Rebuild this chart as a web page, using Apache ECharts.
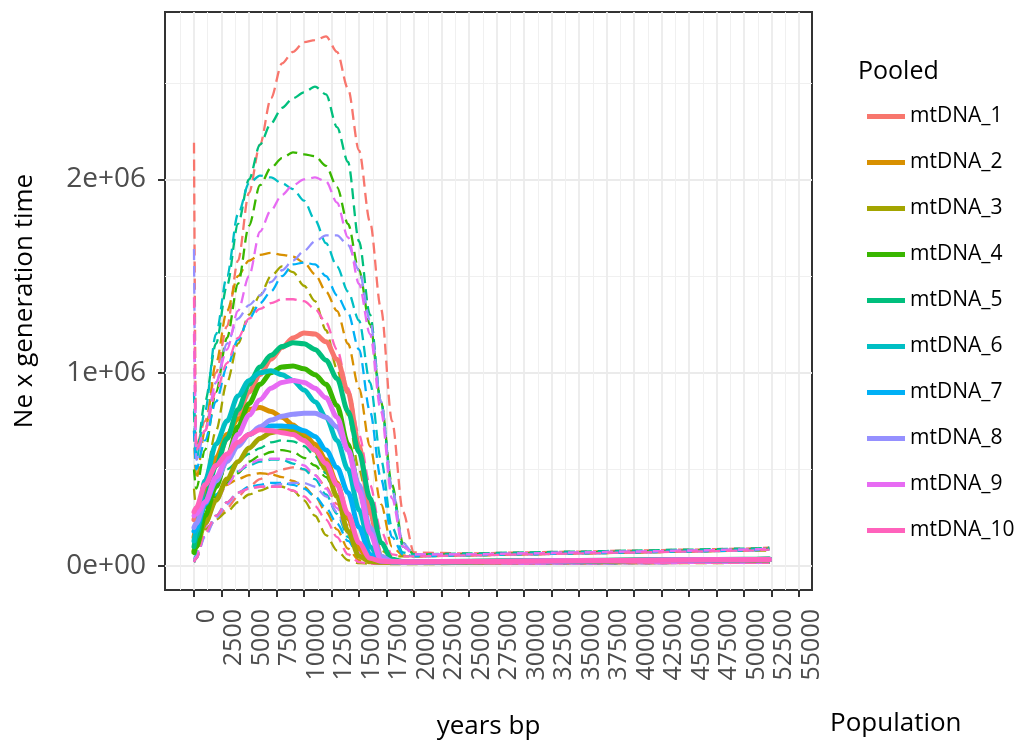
<!DOCTYPE html>
<html>
<head>
<meta charset="utf-8">
<title>Pooled skyline</title>
<script src="https://cdn.jsdelivr.net/npm/echarts@6/dist/echarts.min.js"></script>
<style>
  html, body { margin: 0; padding: 0; background: #ffffff; }
  #chart { width: 1024px; height: 745px; }
</style>
</head>
<body>
<div id="chart"></div>
<script>
// Sampling times (years before present) shared by every curve
const years = [0, 200, 1000, 2000, 3000, 4000, 5000, 6000, 7000, 8000, 9000, 10000, 11000, 12000,
  13000, 14000, 15000, 16000, 17000, 18000, 19000, 20000, 25000, 30000, 35000, 40000, 45000, 50000, 52300];

const runNames = ['mtDNA_1', 'mtDNA_2', 'mtDNA_3', 'mtDNA_4', 'mtDNA_5',
  'mtDNA_6', 'mtDNA_7', 'mtDNA_8', 'mtDNA_9', 'mtDNA_10'];

// Ne x generation time, in millions — median of each run
const median1 = [0.24, 0.27, 0.38, 0.52, 0.66, 0.79, 0.90, 0.99, 1.07, 1.13, 1.18, 1.205, 1.20, 1.16, 1.07, 0.90, 0.62, 0.28, 0.05, 0.026, 0.022, 0.022, 0.024, 0.026, 0.028, 0.030, 0.032, 0.034, 0.035];
const median2 = [0.15, 0.20, 0.40, 0.56, 0.68, 0.76, 0.81, 0.82, 0.80, 0.77, 0.73, 0.68, 0.63, 0.55, 0.43, 0.25, 0.09, 0.03, 0.022, 0.020, 0.020, 0.020, 0.022, 0.024, 0.026, 0.028, 0.030, 0.032, 0.033];
const median3 = [0.08, 0.10, 0.22, 0.34, 0.45, 0.54, 0.61, 0.66, 0.69, 0.70, 0.70, 0.66, 0.60, 0.50, 0.36, 0.18, 0.05, 0.025, 0.020, 0.018, 0.018, 0.019, 0.021, 0.023, 0.025, 0.027, 0.029, 0.031, 0.032];
const median4 = [0.07, 0.10, 0.26, 0.41, 0.56, 0.72, 0.84, 0.94, 1.00, 1.03, 1.035, 1.02, 0.99, 0.94, 0.83, 0.63, 0.40, 0.18, 0.04, 0.025, 0.022, 0.022, 0.024, 0.026, 0.028, 0.030, 0.032, 0.034, 0.035];
const median5 = [0.10, 0.15, 0.34, 0.52, 0.66, 0.81, 0.94, 1.03, 1.09, 1.135, 1.155, 1.15, 1.12, 1.065, 0.97, 0.80, 0.59, 0.35, 0.12, 0.035, 0.024, 0.023, 0.025, 0.027, 0.029, 0.031, 0.033, 0.035, 0.036];
const median6 = [0.13, 0.18, 0.44, 0.63, 0.75, 0.88, 0.96, 1.00, 1.01, 0.99, 0.96, 0.91, 0.85, 0.77, 0.65, 0.50, 0.29, 0.10, 0.03, 0.022, 0.021, 0.021, 0.023, 0.025, 0.027, 0.029, 0.031, 0.033, 0.034];
const median7 = [0.18, 0.20, 0.32, 0.44, 0.55, 0.63, 0.68, 0.71, 0.725, 0.725, 0.72, 0.70, 0.67, 0.60, 0.51, 0.38, 0.20, 0.06, 0.025, 0.021, 0.020, 0.020, 0.022, 0.024, 0.026, 0.028, 0.030, 0.032, 0.033];
const median8 = [0.20, 0.22, 0.33, 0.44, 0.54, 0.62, 0.68, 0.72, 0.755, 0.775, 0.785, 0.79, 0.79, 0.77, 0.72, 0.60, 0.42, 0.20, 0.05, 0.025, 0.022, 0.022, 0.024, 0.026, 0.028, 0.030, 0.032, 0.034, 0.035];
const median9 = [0.26, 0.27, 0.33, 0.46, 0.56, 0.68, 0.78, 0.86, 0.92, 0.95, 0.96, 0.95, 0.92, 0.87, 0.77, 0.60, 0.39, 0.17, 0.03, 0.022, 0.021, 0.021, 0.023, 0.025, 0.027, 0.029, 0.031, 0.033, 0.034];
const median10 = [0.28, 0.30, 0.42, 0.52, 0.58, 0.64, 0.68, 0.705, 0.70, 0.69, 0.68, 0.65, 0.60, 0.53, 0.42, 0.27, 0.12, 0.04, 0.025, 0.022, 0.021, 0.021, 0.023, 0.025, 0.027, 0.029, 0.031, 0.033, 0.034];

// Upper bound of each run
const upper1 = [2.19, 0.62, 0.75, 1.00, 1.24, 1.58, 1.93, 2.18, 2.42, 2.60, 2.66, 2.71, 2.72, 2.74, 2.66, 2.47, 2.15, 1.78, 1.33, 0.75, 0.28, 0.07, 0.065, 0.070, 0.075, 0.080, 0.085, 0.090, 0.095];
const upper2 = [0.70, 0.45, 0.70, 1.05, 1.32, 1.50, 1.58, 1.61, 1.62, 1.61, 1.60, 1.57, 1.51, 1.42, 1.32, 1.15, 0.92, 0.62, 0.32, 0.10, 0.055, 0.050, 0.055, 0.060, 0.065, 0.070, 0.075, 0.080, 0.085];
const upper3 = [0.40, 0.30, 0.45, 0.70, 0.95, 1.15, 1.30, 1.40, 1.50, 1.55, 1.52, 1.45, 1.37, 1.22, 1.02, 0.78, 0.50, 0.25, 0.08, 0.05, 0.050, 0.050, 0.055, 0.060, 0.065, 0.070, 0.075, 0.080, 0.080];
const upper4 = [0.50, 0.40, 0.60, 0.90, 1.18, 1.46, 1.76, 1.97, 2.06, 2.11, 2.14, 2.13, 2.12, 2.07, 1.96, 1.77, 1.53, 1.25, 0.85, 0.42, 0.12, 0.060, 0.060, 0.065, 0.070, 0.075, 0.080, 0.085, 0.090];
const upper5 = [0.80, 0.57, 0.85, 1.15, 1.45, 1.77, 2.00, 2.18, 2.29, 2.37, 2.42, 2.45, 2.48, 2.44, 2.27, 2.09, 1.68, 1.30, 0.85, 0.40, 0.10, 0.060, 0.065, 0.070, 0.075, 0.080, 0.085, 0.090, 0.095];
const upper6 = [0.90, 0.55, 0.80, 1.20, 1.50, 1.82, 1.98, 2.02, 2.01, 1.98, 1.95, 1.89, 1.79, 1.67, 1.55, 1.42, 1.27, 0.95, 0.55, 0.20, 0.07, 0.055, 0.060, 0.065, 0.070, 0.075, 0.080, 0.085, 0.090];
const upper7 = [0.70, 0.50, 0.65, 0.85, 1.03, 1.17, 1.28, 1.36, 1.42, 1.50, 1.56, 1.57, 1.56, 1.50, 1.40, 1.31, 1.12, 0.80, 0.45, 0.15, 0.06, 0.050, 0.055, 0.060, 0.065, 0.070, 0.075, 0.080, 0.085];
const upper8 = [1.64, 0.55, 0.70, 0.95, 1.15, 1.28, 1.35, 1.40, 1.47, 1.53, 1.58, 1.63, 1.68, 1.71, 1.71, 1.66, 1.53, 1.27, 0.85, 0.40, 0.12, 0.060, 0.060, 0.065, 0.070, 0.075, 0.080, 0.085, 0.090];
const upper9 = [1.20, 0.60, 0.70, 0.95, 1.12, 1.32, 1.50, 1.73, 1.84, 1.92, 1.97, 2.00, 2.01, 1.99, 1.88, 1.70, 1.46, 1.20, 0.80, 0.35, 0.10, 0.060, 0.060, 0.065, 0.070, 0.075, 0.080, 0.085, 0.090];
const upper10 = [1.39, 0.60, 0.70, 0.90, 1.05, 1.18, 1.28, 1.33, 1.36, 1.38, 1.38, 1.37, 1.33, 1.26, 1.12, 0.92, 0.68, 0.42, 0.18, 0.06, 0.05, 0.050, 0.055, 0.060, 0.065, 0.070, 0.075, 0.080, 0.085];

// Lower bound of each run
const lower1 = [0.02, 0.04, 0.17, 0.24, 0.30, 0.36, 0.41, 0.45, 0.48, 0.50, 0.51, 0.50, 0.47, 0.41, 0.32, 0.21, 0.10, 0.03, 0.015, 0.012, 0.012, 0.012, 0.013, 0.014, 0.015, 0.016, 0.017, 0.018, 0.018];
const lower2 = [0.02, 0.05, 0.25, 0.36, 0.42, 0.45, 0.47, 0.48, 0.475, 0.46, 0.44, 0.41, 0.36, 0.28, 0.19, 0.09, 0.03, 0.015, 0.012, 0.011, 0.011, 0.011, 0.012, 0.013, 0.014, 0.015, 0.016, 0.017, 0.017];
const lower3 = [0.02, 0.04, 0.19, 0.24, 0.28, 0.33, 0.37, 0.39, 0.41, 0.41, 0.39, 0.34, 0.26, 0.16, 0.08, 0.03, 0.015, 0.012, 0.011, 0.010, 0.010, 0.010, 0.011, 0.012, 0.013, 0.014, 0.015, 0.016, 0.016];
const lower4 = [0.02, 0.04, 0.22, 0.36, 0.43, 0.48, 0.54, 0.57, 0.59, 0.60, 0.59, 0.56, 0.52, 0.46, 0.36, 0.24, 0.10, 0.03, 0.015, 0.012, 0.012, 0.012, 0.013, 0.014, 0.015, 0.016, 0.017, 0.018, 0.018];
const lower5 = [0.02, 0.05, 0.30, 0.44, 0.50, 0.54, 0.58, 0.61, 0.64, 0.65, 0.645, 0.62, 0.57, 0.48, 0.37, 0.25, 0.11, 0.03, 0.015, 0.012, 0.012, 0.012, 0.013, 0.014, 0.015, 0.016, 0.017, 0.018, 0.018];
const lower6 = [0.03, 0.06, 0.25, 0.37, 0.44, 0.49, 0.52, 0.54, 0.55, 0.55, 0.53, 0.50, 0.45, 0.37, 0.27, 0.15, 0.05, 0.02, 0.014, 0.012, 0.012, 0.012, 0.013, 0.014, 0.015, 0.016, 0.017, 0.018, 0.018];
const lower7 = [0.02, 0.04, 0.16, 0.26, 0.33, 0.38, 0.41, 0.42, 0.43, 0.43, 0.42, 0.40, 0.36, 0.30, 0.22, 0.13, 0.05, 0.02, 0.013, 0.011, 0.011, 0.011, 0.012, 0.013, 0.014, 0.015, 0.016, 0.017, 0.017];
const lower8 = [0.02, 0.04, 0.15, 0.25, 0.32, 0.38, 0.40, 0.41, 0.415, 0.425, 0.43, 0.43, 0.41, 0.36, 0.28, 0.17, 0.07, 0.02, 0.013, 0.011, 0.011, 0.011, 0.012, 0.013, 0.014, 0.015, 0.016, 0.017, 0.017];
const lower9 = [0.03, 0.05, 0.20, 0.33, 0.42, 0.49, 0.53, 0.55, 0.555, 0.555, 0.55, 0.52, 0.47, 0.40, 0.30, 0.18, 0.07, 0.02, 0.013, 0.011, 0.011, 0.011, 0.012, 0.013, 0.014, 0.015, 0.016, 0.017, 0.017];
const lower10 = [0.02, 0.04, 0.17, 0.26, 0.33, 0.38, 0.40, 0.41, 0.41, 0.41, 0.39, 0.36, 0.31, 0.24, 0.15, 0.06, 0.02, 0.013, 0.012, 0.011, 0.011, 0.011, 0.012, 0.013, 0.014, 0.015, 0.016, 0.017, 0.017];

// Axis breaks
const xTickValues = [0, 2500, 5000, 7500, 10000, 12500, 15000, 17500, 20000, 22500, 25000, 27500,
  30000, 32500, 35000, 37500, 40000, 42500, 45000, 47500, 50000, 52500, 55000];
const xMinorValues = [-1250, 1250, 3750, 6250, 8750, 11250, 13750, 16250, 18750, 21250, 23750, 26250,
  28750, 31250, 33750, 36250, 38750, 41250, 43750, 46250, 48750, 51250, 53750];
const yTickValues = [0, 1, 2];
const yMinorValues = [0.5, 1.5, 2.5];

const medians = [median1, median2, median3, median4, median5, median6, median7, median8, median9, median10];
const uppers = [upper1, upper2, upper3, upper4, upper5, upper6, upper7, upper8, upper9, upper10];
const lowers = [lower1, lower2, lower3, lower4, lower5, lower6, lower7, lower8, lower9, lower10];

const palette = ['#F8766D', '#D89000', '#A3A500', '#39B600', '#00BF7D',
  '#00BFC4', '#00B0F6', '#9590FF', '#E76BF3', '#FF62BC'];

const toPoints = arr => years.map((y, j) => [y, arr[j]]);

function lineSeries(name, arr, color, dashed) {
  return {
    name: name,
    type: 'line',
    data: toPoints(arr),
    showSymbol: false,
    symbol: 'none',
    smooth: 0.3,
    smoothMonotone: 'x',
    color: color,
    itemStyle: { color: color },
    lineStyle: dashed
      ? { color: color, width: 2.3, type: [11, 6], cap: 'butt' }
      : { color: color, width: 5, cap: 'round', join: 'round' },
    emphasis: { disabled: true },
    silent: true,
    z: dashed ? 2 : 3
  };
}

const series = [];
// dashed interval bounds underneath
runNames.forEach((n, i) => {
  series.push(lineSeries(n + ' lower', lowers[i], palette[i], true));
  series.push(lineSeries(n + ' upper', uppers[i], palette[i], true));
});
// solid medians on top
runNames.forEach((n, i) => {
  series.push(lineSeries(n, medians[i], palette[i], false));
});

const font = 'Open Sans';
const chart = echarts.init(document.getElementById('chart'), null, { renderer: 'canvas' });

chart.setOption({
  animation: false,
  backgroundColor: '#ffffff',
  textStyle: { fontFamily: font },
  grid: {
    left: 165, right: 212, top: 12, bottom: 152,
    show: true, borderColor: '#333333', borderWidth: 2, backgroundColor: 'transparent'
  },
  xAxis: [
    {
      type: 'value',
      min: -2636, max: 56180,
      axisLine: { show: false, onZero: false },
      axisTick: { show: true, customValues: xTickValues, length: 7, lineStyle: { color: '#333333', width: 2 } },
      axisLabel: {
        customValues: xTickValues, rotate: 90, margin: 19, verticalAlign: 'top',
        fontSize: 25, color: '#4D4D4D', fontFamily: font,
        formatter: v => String(v)
      },
      splitLine: { show: true, lineStyle: { color: '#EBEBEB', width: 1.8 } },
      name: 'years bp', nameLocation: 'middle', nameGap: 124,
      nameTextStyle: { fontSize: 26, color: '#000000', fontFamily: font }
    },
    {
      type: 'value',
      min: -2636, max: 56180,
      axisLine: { show: false, onZero: false },
      axisTick: { show: false, customValues: xMinorValues },
      axisLabel: { show: false, customValues: xMinorValues },
      splitLine: { show: true, lineStyle: { color: '#F0F0F0', width: 1 } }
    }
  ],
  yAxis: [
    {
      type: 'value',
      min: -0.124, max: 2.866,
      axisLine: { show: false, onZero: false },
      axisTick: { show: true, customValues: yTickValues, length: 7, lineStyle: { color: '#333333', width: 2 } },
      axisLabel: {
        customValues: yTickValues, margin: 19, fontSize: 28, color: '#4D4D4D', fontFamily: font,
        formatter: v => (v === 0 ? '0e+00' : v + 'e+06')
      },
      splitLine: { show: true, lineStyle: { color: '#EBEBEB', width: 1.8 } },
      name: 'Ne x generation time', nameLocation: 'middle', nameGap: 127,
      nameTextStyle: { fontSize: 26, color: '#000000', fontFamily: font }
    },
    {
      type: 'value',
      min: -0.124, max: 2.866,
      axisLine: { show: false, onZero: false },
      axisTick: { show: false, customValues: yMinorValues },
      axisLabel: { show: false, customValues: yMinorValues },
      splitLine: { show: true, lineStyle: { color: '#F0F0F0', width: 1 } }
    }
  ],
  legend: {
    orient: 'vertical',
    left: 862, top: 101,
    itemWidth: 38, itemHeight: 5, itemGap: 25,
    selectedMode: false,
    data: runNames.map(n => ({ name: n, icon: 'rect' })),
    textStyle: { fontSize: 21, color: '#000000', fontFamily: font }
  },
  graphic: [
    { type: 'text', left: 858, top: 59, style: { text: 'Pooled', fontSize: 25, fill: '#000000', fontFamily: font } },
    { type: 'text', left: 830, top: 711, style: { text: 'Population', fontSize: 26, fill: '#000000', fontFamily: font } }
  ],
  series: series
});
</script>
</body>
</html>
